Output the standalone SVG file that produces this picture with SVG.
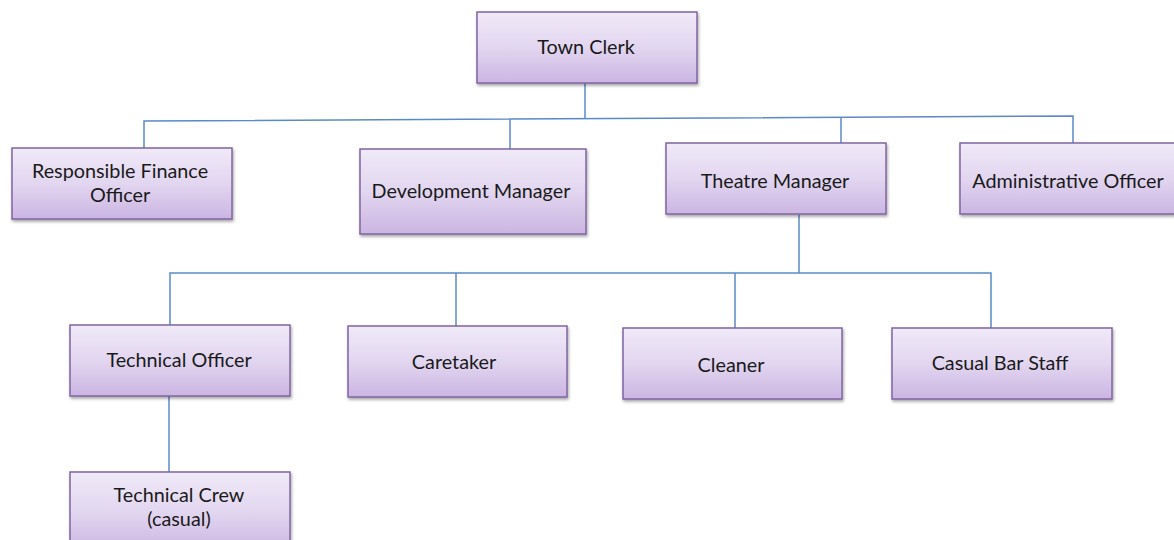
<svg xmlns="http://www.w3.org/2000/svg" width="1174" height="540" viewBox="0 0 1174 540">
<style>
.box{fill:url(#g);stroke:#8064a2;stroke-width:1.5;filter:url(#sh)}
.t{font-family:Lato,"Open Sans",sans-serif;font-size:19.8px;fill:#1a1a1a;text-anchor:middle}
.c{stroke:#5b8ac6;stroke-width:1.5;fill:none}
</style>
<defs>
<linearGradient id="g" x1="0" y1="0" x2="0" y2="1">
<stop offset="0" stop-color="#f0eaf8"/>
<stop offset="0.5" stop-color="#e2d6f0"/>
<stop offset="1" stop-color="#cbb5e2"/>
</linearGradient>
<filter id="sh" x="-10%" y="-10%" width="120%" height="130%">
<feDropShadow dx="1" dy="2" stdDeviation="1.5" flood-color="#000" flood-opacity="0.35"/>
</filter>
</defs>
<g id="connectors">
<path class="c" d="M585 83 V118"/>
<path class="c" d="M144 148 V121 L1073 116 V143"/>
<path class="c" d="M510 149 V119.5"/>
<path class="c" d="M841 143 V117"/>
<path class="c" d="M799 215 V273"/>
<path class="c" d="M170 325 V273 H991 V328"/>
<path class="c" d="M456 326 V273"/>
<path class="c" d="M735 328 V273"/>
<path class="c" d="M169 396 V472"/>
</g>
<g id="town-clerk"><rect class="box" x="477" y="12" width="220" height="71"/><text class="t" x="586" y="54">Town Clerk</text></g>
<g id="rfo"><rect class="box" x="12" y="148" width="220" height="71"/><text class="t" x="120" y="178">Responsible Finance</text><text class="t" x="120" y="202">Officer</text></g>
<g id="dev-manager"><rect class="box" x="360" y="149" width="226" height="85"/><text class="t" x="471" y="198">Development Manager</text></g>
<g id="theatre-manager"><rect class="box" x="666" y="143" width="220" height="71"/><text class="t" x="775" y="188">Theatre Manager</text></g>
<g id="admin-officer"><rect class="box" x="960" y="143" width="220" height="71"/><text class="t" x="1068" y="188">Administrative Officer</text></g>
<g id="technical-officer"><rect class="box" x="70" y="325" width="220" height="71"/><text class="t" x="179" y="367">Technical Officer</text></g>
<g id="caretaker"><rect class="box" x="348" y="326" width="219" height="71"/><text class="t" x="454" y="369">Caretaker</text></g>
<g id="cleaner"><rect class="box" x="623" y="328" width="219" height="71"/><text class="t" x="731" y="372">Cleaner</text></g>
<g id="casual-bar-staff"><rect class="box" x="892" y="328" width="220" height="71"/><text class="t" x="1000" y="370">Casual Bar Staff</text></g>
<g id="technical-crew"><rect class="box" x="70" y="472" width="220" height="80"/><text class="t" x="179" y="502">Technical Crew</text><text class="t" x="179" y="526">(casual)</text></g>
</svg>
